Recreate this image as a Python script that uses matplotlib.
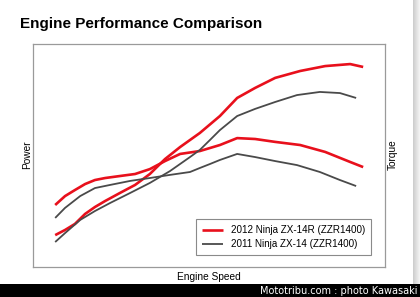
"""
Engine performance comparison: 2012 Ninja ZX-14R vs 2011 Ninja ZX-14.

Power and torque curves against engine speed, on unlabelled relative scales
(0-100 % of the plotting range), saved as out.png.
"""

import matplotlib

matplotlib.use("Agg")
import matplotlib.pyplot as plt
import numpy as np

plt.rcParams["font.family"] = ["Liberation Sans", "DejaVu Sans"]

# --- data (relative units) --------------------------------------------------
RPM_2012 = [6.3, 9.1, 11.9, 14.8, 17.6, 20.5, 24.7, 29.0, 33.2, 37.5,
            41.8, 47.4, 53.1, 58.0, 63.1, 68.8, 75.9, 83.0, 90.1, 93.8]
POWER_2012 = [14.3, 16.6, 19.3, 23.8, 26.9, 29.6, 33.2, 36.8, 41.7, 48.4,
              53.8, 60.1, 67.7, 75.8, 80.3, 84.8, 87.9, 90.1, 91.0, 89.7]
TORQUE_2012 = [27.8, 31.8, 34.5, 37.2, 39.0, 39.9, 40.8, 41.7, 43.9, 47.5,
               50.7, 52.0, 54.7, 57.8, 57.4, 56.1, 54.7, 51.6, 47.1, 44.8]

RPM_2011 = [6.3, 9.1, 13.4, 17.6, 21.9, 27.6, 33.2, 38.9, 44.6, 47.4,
            50.3, 53.1, 58.0, 63.1, 68.8, 75.0, 81.5, 87.2, 91.8]
POWER_2011 = [11.2, 15.2, 21.1, 25.1, 28.7, 33.2, 37.7, 43.0, 49.3, 52.5,
              57.0, 61.4, 67.7, 70.9, 74.0, 77.1, 78.5, 78.0, 75.8]
TORQUE_2011 = [22.0, 26.5, 31.8, 35.4, 36.8, 38.6, 39.9, 41.3, 42.6, 44.4,
               46.2, 48.0, 50.7, 49.3, 47.5, 45.7, 42.6, 39.0, 36.3]

LABEL_2012 = "2012 Ninja ZX-14R (ZZR1400)"
LABEL_2011 = "2011 Ninja ZX-14 (ZZR1400)"
RED = "#e8101c"
GREY = "#4a4a4a"

W, H = 420, 297


def main() -> None:
    fig = plt.figure(figsize=(W / 100, H / 100), dpi=100)
    fig.patch.set_facecolor("white")

    # plotting box in pixel terms: x 33..385, y 44..267
    ax = fig.add_axes([33 / W, 1 - 267 / H, 352 / W, 223 / H])
    ax.set_xlim(0, 100)
    ax.set_ylim(0, 100)
    ax.set_xticks([])
    ax.set_yticks([])
    for spine in ax.spines.values():
        spine.set_color("#9a9a9a")
        spine.set_linewidth(0.9)

    style = dict(solid_capstyle="butt", solid_joinstyle="round")
    ax.plot(RPM_2012, POWER_2012, color=RED, lw=1.9, label=LABEL_2012, **style)
    ax.plot(RPM_2012, TORQUE_2012, color=RED, lw=1.9, **style)
    ax.plot(RPM_2011, POWER_2011, color=GREY, lw=1.3, label=LABEL_2011, **style)
    ax.plot(RPM_2011, TORQUE_2011, color=GREY, lw=1.3, **style)

    leg = ax.legend(loc="lower right", bbox_to_anchor=(0.975, 0.031),
                    fontsize=7.1, handlelength=2.2, handletextpad=0.8,
                    borderpad=0.6, labelspacing=0.4, fancybox=False,
                    framealpha=1)
    leg.get_frame().set_edgecolor("#8a8a8a")
    leg.get_frame().set_linewidth(0.8)

    fig.text(20 / W, 1 - 28 / H, "Engine Performance Comparison",
             fontsize=11, fontweight="bold", va="baseline", ha="left")
    fig.text(209 / W, 1 - 277 / H, "Engine Speed", fontsize=7.3,
             ha="center", va="center")
    fig.text(27 / W, 1 - 155 / H, "Power", fontsize=7.3, rotation=90,
             ha="center", va="center")
    fig.text(393 / W, 1 - 155 / H, "Torque", fontsize=7.3, rotation=90,
             ha="center", va="center")

    # right-hand page shadow
    shade = fig.add_axes([413 / W, 1 - 284 / H, 7 / W, 284 / H])
    grad = np.linspace(0.80, 0.96, 32)[None, :]
    shade.imshow(grad, cmap="gray", vmin=0, vmax=1, aspect="auto",
                 extent=(0, 1, 0, 1))
    shade.set_axis_off()

    # black credit strip
    strip = fig.add_axes([0, 0, 1, 13 / H])
    strip.set_facecolor("black")
    strip.set_xticks([])
    strip.set_yticks([])
    for spine in strip.spines.values():
        spine.set_visible(False)
    strip.text(0.995, 0.45, "Mototribu.com : photo Kawasaki", color="white",
               fontsize=7, family="DejaVu Sans", ha="right", va="center",
               transform=strip.transAxes)

    fig.savefig("out.png", dpi=100, facecolor="white")
    plt.close(fig)


if __name__ == "__main__":
    main()
